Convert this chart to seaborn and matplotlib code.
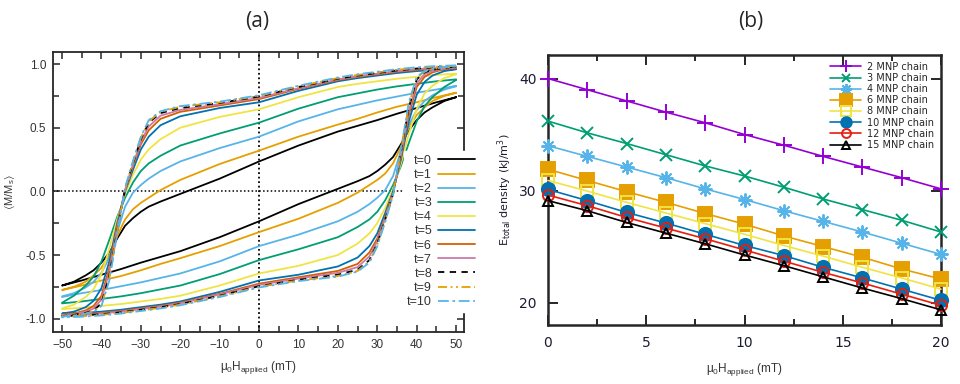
import pandas as pd
import matplotlib
matplotlib.use("Agg")
import matplotlib.pyplot as plt
from matplotlib.ticker import MultipleLocator
import seaborn as sns

# ---------------- panel (a): hysteresis loops ----------------
# upper (descending field) branch; the lower branch is its mirror image
field_up = [50, 45, 40, 35, 30, 25, 20, 10, 0, -10, -20, -25, -28, -30, -32, -34,
            -36, -38, -40, -42, -44, -47, -50]
m_t0 = [0.74, 0.70, 0.655, 0.61, 0.56, 0.515, 0.47, 0.36, 0.235, 0.10, -0.02, -0.08,
        -0.12, -0.16, -0.21, -0.27, -0.37, -0.48, -0.56, -0.62, -0.66, -0.71, -0.74]
m_t1 = [0.775, 0.74, 0.70, 0.665, 0.62, 0.57, 0.525, 0.43, 0.32, 0.215, 0.09, 0.01,
        -0.05, -0.09, -0.14, -0.22, -0.35, -0.50, -0.60, -0.66, -0.71, -0.75, -0.775]
m_t2 = [0.83, 0.80, 0.775, 0.745, 0.715, 0.68, 0.645, 0.55, 0.43, 0.34, 0.235, 0.16,
        0.10, 0.05, -0.01, -0.12, -0.32, -0.52, -0.64, -0.71, -0.755, -0.80, -0.825]
m_t3 = [0.88, 0.865, 0.845, 0.825, 0.80, 0.77, 0.74, 0.65, 0.54, 0.455, 0.36, 0.28,
        0.22, 0.16, 0.07, -0.05, -0.20, -0.38, -0.55, -0.67, -0.74, -0.82, -0.875]
m_t4 = [0.925, 0.915, 0.90, 0.885, 0.865, 0.845, 0.82, 0.74, 0.645, 0.585, 0.50, 0.41,
        0.33, 0.25, 0.13, -0.02, -0.22, -0.45, -0.65, -0.77, -0.83, -0.89, -0.92]
m_t5 = [0.96, 0.955, 0.945, 0.93, 0.91, 0.89, 0.865, 0.79, 0.70, 0.655, 0.59, 0.52,
        0.43, 0.33, 0.17, 0.0, -0.25, -0.55, -0.76, -0.86, -0.91, -0.945, -0.96]
m_t6 = [0.97, 0.965, 0.955, 0.94, 0.92, 0.90, 0.875, 0.805, 0.725, 0.675, 0.625, 0.57,
        0.48, 0.37, 0.20, 0.01, -0.27, -0.60, -0.82, -0.90, -0.935, -0.96, -0.97]
m_t7 = [0.975, 0.97, 0.96, 0.945, 0.925, 0.905, 0.88, 0.81, 0.735, 0.685, 0.64, 0.595,
        0.51, 0.39, 0.21, 0.01, -0.29, -0.63, -0.85, -0.92, -0.945, -0.965, -0.975]
m_t8 = [0.98, 0.975, 0.965, 0.95, 0.93, 0.91, 0.885, 0.82, 0.745, 0.695, 0.655, 0.615,
        0.54, 0.41, 0.22, 0.02, -0.31, -0.66, -0.88, -0.935, -0.955, -0.97, -0.98]
m_t9 = [0.985, 0.98, 0.97, 0.955, 0.935, 0.915, 0.89, 0.825, 0.75, 0.70, 0.665, 0.625,
        0.55, 0.42, 0.23, 0.02, -0.32, -0.68, -0.895, -0.94, -0.96, -0.975, -0.982]
m_t10 = [0.99, 0.985, 0.975, 0.96, 0.94, 0.92, 0.895, 0.83, 0.755, 0.705, 0.67, 0.63,
         0.56, 0.43, 0.24, 0.03, -0.33, -0.70, -0.90, -0.945, -0.962, -0.975, -0.985]
loop_labels = ["t=0", "t=1", "t=2", "t=3", "t=4", "t=5", "t=6", "t=7", "t=8", "t=9", "t=10"]
loop_values = [m_t0, m_t1, m_t2, m_t3, m_t4, m_t5, m_t6, m_t7, m_t8, m_t9, m_t10]

# ---------------- panel (b): total energy density ----------------
field_b = [0, 2, 4, 6, 8, 10, 12, 14, 16, 18, 20]
e_2 = [40.0, 39.0, 38.0, 37.0, 36.05, 35.0, 34.05, 33.05, 32.1, 31.15, 30.15]
e_3 = [36.2, 35.15, 34.2, 33.2, 32.2, 31.3, 30.3, 29.25, 28.3, 27.35, 26.3]
e_4 = [34.0, 33.05, 32.1, 31.15, 30.15, 29.2, 28.2, 27.25, 26.3, 25.3, 24.3]
e_6 = [31.9, 30.9, 29.9, 28.95, 27.95, 27.0, 25.95, 25.0, 24.05, 23.0, 22.1]
e_8 = [30.9, 29.95, 28.95, 28.0, 27.05, 26.1, 25.1, 24.15, 23.15, 22.2, 21.2]
e_10 = [30.1, 29.1, 28.05, 27.1, 26.1, 25.1, 24.2, 23.15, 22.2, 21.2, 20.2]
e_12 = [29.6, 28.65, 27.6, 26.65, 25.7, 24.7, 23.7, 22.7, 21.75, 20.75, 19.75]
e_15 = [29.1, 28.2, 27.15, 26.2, 25.25, 24.25, 23.3, 22.3, 21.3, 20.35, 19.35]
chain_labels = ["2 MNP chain", "3 MNP chain", "4 MNP chain", "6 MNP chain",
                "8 MNP chain", "10 MNP chain", "12 MNP chain", "15 MNP chain"]
chain_values = [e_2, e_3, e_4, e_6, e_8, e_10, e_12, e_15]

# styles
loop_colors = ["#000000", "#E69F00", "#56B4E9", "#009E73", "#F0E442", "#0072B2",
               "#D55E00", "#CC79A7", "#000000", "#E69F00", "#56B4E9"]
loop_ls = ["-"] * 8 + [(0, (3.5, 3)), (0, (5, 2, 1, 2, 1, 2)), (0, (6, 2, 1.5, 2))]
chain_colors = ["#9400D3", "#009E73", "#56B4E9", "#E69F00", "#F0E442", "#0072B2",
                "#E51E10", "#000000"]
chain_markers = ["+", "x", (8, 2, 0), "s", "s", "o", "o", "^"]
chain_faces = [None, None, None, "#E69F00", "none", "#0072B2", "none", "none"]
chain_msize = [11, 8, 10, 10, 9, 9.5, 8, 7.5]

sns.set_style("ticks")
plt.rcParams["font.family"] = ["Liberation Sans", "DejaVu Sans"]

fig = plt.figure(figsize=(9.6, 3.84), dpi=100)
ax1 = fig.add_axes([53 / 960, 1 - 332 / 384, 411 / 960, 280 / 384])
ax2 = fig.add_axes([548 / 960, 1 - 325 / 384, 393 / 960, 270 / 384])

# ---- (a)
ax1.axhline(0, color="black", lw=1.1, ls=(0, (1, 1.5)), zorder=1)
ax1.axvline(0, color="black", lw=1.3, ls=(0, (1, 1.5)), zorder=1)
for lab, m, col, ls in zip(loop_labels, loop_values, loop_colors, loop_ls):
    df = pd.DataFrame({"H": field_up + [-h for h in field_up],
                       "M": m + [-v for v in m]})
    sns.lineplot(data=df, x="H", y="M", sort=False, estimator=None, color=col,
                 lw=1.3, linestyle=ls, ax=ax1, label=lab, zorder=2)

ax1.set_xlim(-52.3, 52)
ax1.set_ylim(-1.105, 1.095)
ax1.xaxis.set_major_locator(MultipleLocator(10))
ax1.xaxis.set_minor_locator(MultipleLocator(5))
ax1.yaxis.set_major_locator(MultipleLocator(0.5))
ax1.yaxis.set_minor_locator(MultipleLocator(0.25))
ax1.yaxis.set_major_formatter(matplotlib.ticker.FormatStrFormatter("%.1f"))
ax1.tick_params(which="both", direction="in", top=True, right=True, width=1.1,
                labelsize=8.5, labelcolor="#333333", pad=5)
ax1.tick_params(which="major", length=5)
ax1.tick_params(which="minor", length=4)
for s in ax1.spines.values():
    s.set_linewidth(1.3)
ax1.set_xlabel(r"$\mathregular{\mu_0H_{applied}}$ (mT)", fontsize=8.5, color="#333333",
               labelpad=6)
ax1.set_ylabel(r"$\mathregular{\langle M/M_s\rangle}$", fontsize=8, color="#333333",
               labelpad=6)
leg1 = ax1.legend(loc="upper right", bbox_to_anchor=(1.035, 0.646), markerfirst=False,
                  fontsize=9, handlelength=2.9, handletextpad=0.5, labelspacing=0.17,
                  borderpad=0.3, frameon=True, fancybox=False, framealpha=1,
                  edgecolor="white", facecolor="white", borderaxespad=0)
for t in leg1.get_texts():
    t.set_color("#333333")

# ---- (b)
for lab, e, col, mk, fc, ms in zip(chain_labels, chain_values, chain_colors,
                                   chain_markers, chain_faces, chain_msize):
    kw = dict(marker=mk, markersize=ms, markeredgecolor=col, markeredgewidth=1.4)
    if fc is not None:
        kw["markerfacecolor"] = fc
    sns.lineplot(x=field_b, y=e, color=col, lw=1.2, ax=ax2, label=lab, clip_on=False,
                 estimator=None, zorder=3, **kw)

ax2.set_xlim(0, 20)
ax2.set_ylim(18.0, 42.1)
ax2.xaxis.set_major_locator(MultipleLocator(5))
ax2.xaxis.set_minor_locator(MultipleLocator(2.5))
ax2.yaxis.set_major_locator(MultipleLocator(10))
ax2.tick_params(which="both", direction="in", top=True, right=True, width=1.4,
                labelsize=10, labelcolor="#1c1c30", pad=8)
ax2.tick_params(which="major", length=7)
ax2.tick_params(which="minor", length=4)
for lbl in ax2.get_xticklabels() + ax2.get_yticklabels():
    lbl.set_family("DejaVu Sans")
for s in ax2.spines.values():
    s.set_linewidth(1.8)
ax2.set_xlabel(r"$\mathregular{\mu_0H_{applied}}$ (mT)", fontsize=8.5, color="#333333",
               labelpad=8)
ax2.set_ylabel(r"E$_{\mathregular{total}}$ density (kJ/m$^{\mathregular{3}}$)",
               fontsize=8, color="#1c1c30", family="DejaVu Sans", labelpad=4)
ax2.legend(loc="upper right", bbox_to_anchor=(1.0, 1.0), frameon=False,
           prop={"family": "DejaVu Sans", "size": 7}, handlelength=3.2,
           handletextpad=0.6, labelspacing=0.12, borderaxespad=0.3, markerscale=0.8)

fig.text(257 / 960, 1 - 21 / 384, "(a)", ha="center", va="center", fontsize=15,
         family="Open Sans")
fig.text(751 / 960, 1 - 21 / 384, "(b)", ha="center", va="center", fontsize=15,
         family="Open Sans")

fig.savefig("out.png", dpi=100, facecolor="white")
